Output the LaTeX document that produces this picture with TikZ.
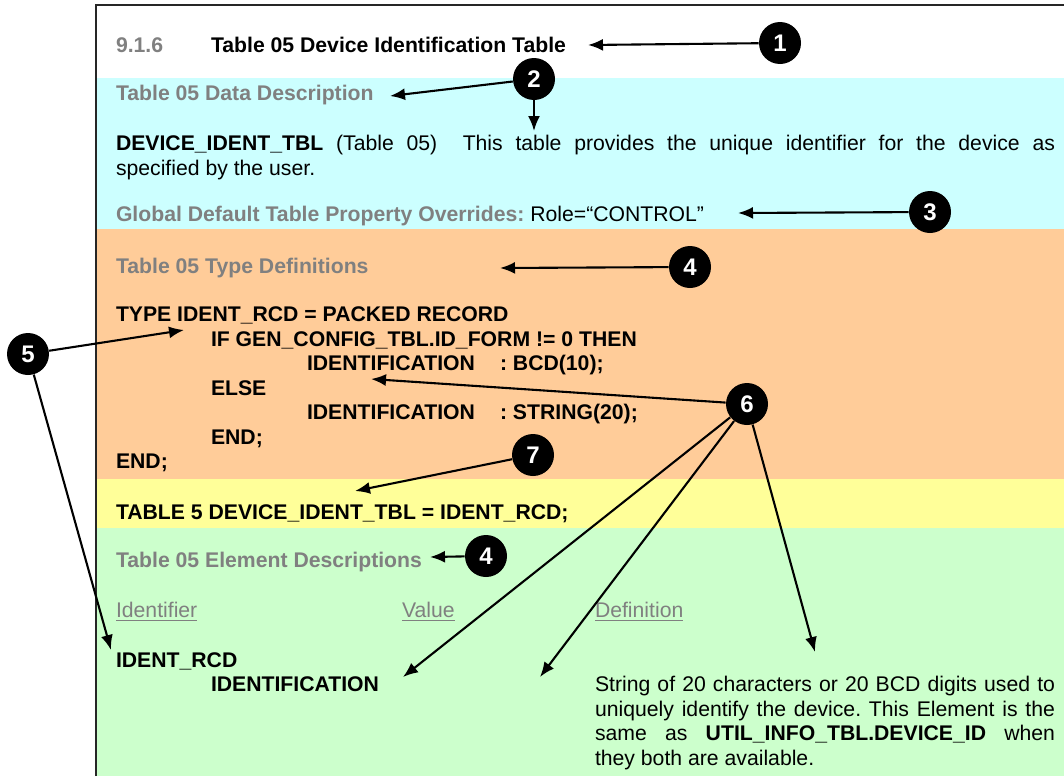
\documentclass[tikz,border=0pt]{standalone}
\usepackage{fontspec}
\setmainfont{Liberation Sans}
\usetikzlibrary{arrows.meta}
\definecolor{bcyan}{HTML}{CCFFFF}
\definecolor{borange}{HTML}{FFCC99}
\definecolor{byellow}{HTML}{FFFF99}
\definecolor{bgreen}{HTML}{CCFFCC}
\definecolor{tgray}{HTML}{808080}
\newcommand{\fs}{\fontsize{10.6}{12.25}\selectfont\frenchspacing}
\begin{document}
\begin{tikzpicture}[x=0.5pt,y=-0.5pt,
  txt/.style={anchor=base west, inner sep=0pt, outer sep=0pt, font=\fs},
  hd/.style={txt, text=tgray, font=\fs\bfseries},
  code/.style={txt, font=\fs\bfseries},
  para/.style={txt, align=justify},
  num/.style={circle, fill=black, text=white, minimum size=21pt, inner sep=0pt, font=\fontsize{12}{12}\selectfont\bfseries},
  arr/.style={-{Latex[length=7.5pt,width=6pt]}, line width=1.05pt},
  frame/.style={line width=1.1pt, draw=black!85}]
\useasboundingbox (0,0) rectangle (1064,776);
\fill[white] (0,0) rectangle (1064,776);
% colour bands
\fill[bcyan]   (97,78)  rectangle (1064,229);
\fill[borange] (97,229) rectangle (1064,479);
\fill[byellow] (97,479) rectangle (1064,528);
\fill[bgreen]  (97,528) rectangle (1064,776);
% frame
\draw[frame] (96,776) |- (1064,5);

% texts
\node[code] (head) at (116,52) {\makebox[47.5pt][l]{\color{tgray}9.1.6}Table 05 Device Identification Table};
\node[hd] (datadesc) at (116,100.5) {Table 05 Data Description};
\node[para, text width=469.5pt] (desc) at (116,150.5) {\textbf{DEVICE\_IDENT\_TBL} (Table 05)\ \ This table provides the unique identifier for the device as\linebreak specified by the user.};
\node[txt] (global) at (116,221.5) {\textcolor{tgray}{\bfseries Global Default Table Property Overrides:} Role=“CONTROL”};
\node[hd] (typedef) at (116,273.5) {Table 05 Type Definitions};
\node[code] (l1) at (116,321.5) {TYPE IDENT\_RCD = PACKED RECORD};
\node[code] (l2) at (211,346) {IF GEN\_CONFIG\_TBL.ID\_FORM != 0 THEN};
\node[code] (l3) at (307,370.5) {\makebox[96.5pt][l]{IDENTIFICATION}: BCD(10);};
\node[code] (l4) at (211,395) {ELSE};
\node[code] (l5) at (307,419.5) {\makebox[96.5pt][l]{IDENTIFICATION}: STRING(20);};
\node[code] (l6) at (211,444) {END;};
\node[code] (l7) at (116,468.5) {END;};
\node[code] (tbl) at (116,519) {TABLE 5 DEVICE\_IDENT\_TBL = IDENT\_RCD;};
\node[hd] (elemdesc) at (116,567.5) {Table 05 Element Descriptions};
\node[txt, text=tgray] (colhd) at (116,617) {\makebox[143pt][l]{\underline{Identifier}}\makebox[96.5pt][l]{\underline{Value}}\underline{Definition}};
\node[code] (e1) at (116,667) {IDENT\_RCD};
\node[code] (e2) at (211,691.5) {IDENTIFICATION};
\node[para, text width=230pt] (def) at (595,691.5) {String of 20 characters or 20 BCD digits used to\linebreak uniquely identify the device. This Element is the\linebreak same as \textbf{UTIL\_INFO\_TBL.DEVICE\_ID} when\linebreak they both are available.};

% numbered callouts
\node[num] (c1) at (780,43) {1};
\node[num] (c2) at (534,79) {2};
\node[num] (c3) at (930,212) {3};
\node[num] (c4a) at (690,267) {4};
\node[num] (c5) at (28,354) {5};
\node[num] (c6) at (747,404) {6};
\node[num] (c7) at (533,455) {7};
\node[num] (c4b) at (486,556) {4};

% arrow targets
\coordinate (t1) at (588,45);
\coordinate (t2a) at (390,96);
\coordinate (t2b) at (534,131);
\coordinate (t3) at (738,213);
\coordinate (t4a) at (500,268);
\coordinate (t5a) at (184,330);
\coordinate (t5b) at (111,650);
\coordinate (t6a) at (371,379);
\coordinate (t6b) at (403,677);
\coordinate (t6c) at (540,677);
\coordinate (t6d) at (815,652);
\coordinate (t7) at (355,491);
\coordinate (t4b) at (430,557);

\draw[arr] (c1) -- (t1);
\draw[arr] (c2) -- (t2a);
\draw[arr] (c2) -- (t2b);
\draw[arr] (c3) -- (t3);
\draw[arr] (c4a) -- (t4a);
\draw[arr] (c5) -- (t5a);
\draw[arr] (c5) -- (t5b);
\draw[arr] (c6) -- (t6a);
\draw[arr] (c6) -- (t6b);
\draw[arr] (c6) -- (t6c);
\draw[arr] (c6) -- (t6d);
\draw[arr] (c7) -- (t7);
\draw[arr] (c4b) -- (t4b);
\end{tikzpicture}
\end{document}
